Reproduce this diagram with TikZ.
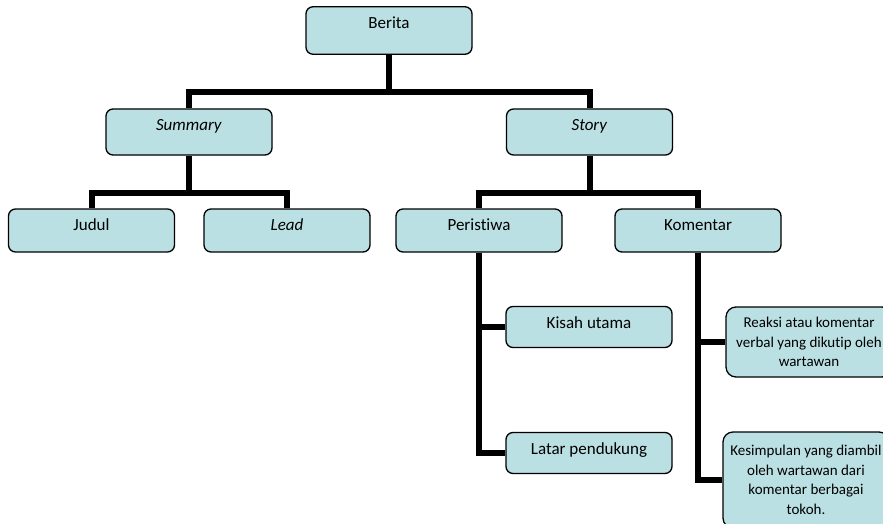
\documentclass[tikz,border=0pt]{standalone}
\usepackage{fontspec}
\setmainfont{Carlito}[Ligatures=NoCommon]
\definecolor{boxfill}{RGB}{187,224,227}
\begin{document}
\begin{tikzpicture}[x=1pt,y=-1pt,
    box/.style={draw=black, line width=1.3pt, fill=boxfill, rounded corners=7pt,
      minimum width=166pt, inner xsep=2pt, inner ysep=0pt,
      font=\fontsize{17}{19}\selectfont, text height=21.5pt},
    smallbox/.style={draw=black, line width=1.3pt, fill=boxfill, rounded corners=10pt,
      minimum width=166pt, inner xsep=2pt, inner ysep=3pt, align=center,
      font=\fontsize{15}{19.5}\selectfont},
    conn/.style={line width=6pt}]
  \clip (0,0) rectangle (883,524);

  % top
  \node [box, text depth=26pt] (berita) at (389,30.5) {Berita};

  % summary / story
  \node [box, text depth=24.5pt] (summary) at (189,132) {\textit{Summary}};
  \node [box, text depth=24.5pt] (story) at (589.5,132) {\textit{Story}};

  \node [box, text depth=21.5pt] (judul) at (91.5,230.5) {Judul};
  \node [box, text depth=21.5pt] (lead) at (287,230.5) {\textit{Lead}};
  \node [box, text depth=21.5pt] (peristiwa) at (479,230.5) {Peristiwa};
  \node [box, text depth=21.5pt] (komentar) at (698,230.5) {Komentar};

  % under peristiwa
  \node [box, text depth=19.5pt] (kisah) at (589,327) {Kisah utama};
  \node [box, text depth=19.5pt] (latar) at (589,453) {Latar pendukung};

  % under komentar
  \node [smallbox, minimum height=70pt] (reaksi) at (809,342)
    {Reaksi atau komentar\\ verbal yang dikutip oleh\\ wartawan};
  \node [smallbox, minimum height=96pt] (kesimpulan) at (806,480)
    {Kesimpulan yang diambil\\ oleh wartawan dari\\ komentar berbagai\\ tokoh.};

  \draw[conn] (berita.south) -- ++(0,37) -| (summary.north);
  \draw[conn] (berita.south) -- ++(0,37) -| (story.north);
  \draw[conn] (summary.south) -- ++(0,37) -| (judul.north);
  \draw[conn] (summary.south) -- ++(0,37) -| (lead.north);
  \draw[conn] (story.south) -- ++(0,37) -| (peristiwa.north);
  \draw[conn] (story.south) -- ++(0,37) -| (komentar.north);
  \draw[conn] (peristiwa.south) |- (kisah.west);
  \draw[conn] (peristiwa.south) |- (latar.west);
  \draw[conn] (komentar.south) |- (reaksi.west);
  \draw[conn] (komentar.south) |- (kesimpulan.west);
\end{tikzpicture}
\end{document}
